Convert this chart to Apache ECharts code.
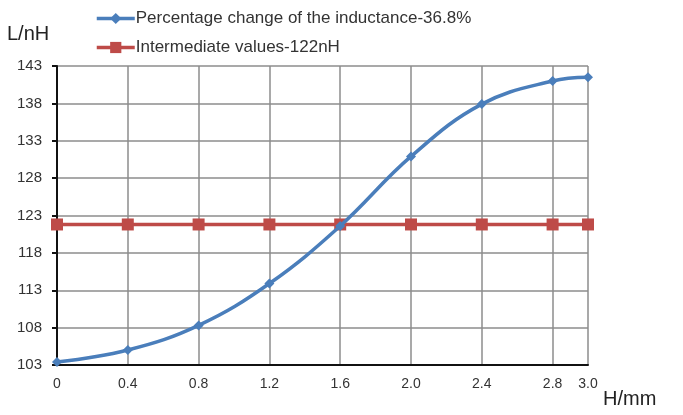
<!DOCTYPE html>
<html><head><meta charset="utf-8">
<script src="https://cdn.jsdelivr.net/npm/echarts@6/dist/echarts.min.js"></script>
<style>html,body{margin:0;padding:0;background:#fff}#c{width:683px;height:415px}</style>
</head><body><div id="c"></div>
<script>
const xValues = [0, 0.4, 0.8, 1.2, 1.6, 2.0, 2.4, 2.8, 3.0];
const inductance = [103.4, 105.0, 108.3, 113.9, 121.6, 130.9, 137.9, 141.0, 141.5];
const intermediate = [121.8, 121.8, 121.8, 121.8, 121.8, 121.8, 121.8, 121.8, 121.8];
const seriesNames = ['Percentage change of the inductance-36.8%', 'Intermediate values-122nH'];
const yAxisName = 'L/nH';
const xAxisName = 'H/mm';

const chart = echarts.init(document.getElementById('c'));
const pair = (ys) => xValues.map((x, i) => [x, ys[i]]);
chart.setOption({
  animation: false,
  textStyle: { fontFamily: 'Liberation Sans, Arial, sans-serif' },
  legend: {
    orient: 'vertical', left: 90, top: 5, itemGap: 12, itemWidth: 38, itemHeight: 14,
    lineStyle: { width: 3.5 },
    textStyle: { fontSize: 17, color: '#333', padding: [0, 0, 0, -4] },
    data: seriesNames
  },
  grid: { left: 57, right: 95, top: 66, bottom: 50, containLabel: false },
  graphic: [
    { type: 'text', left: 7, top: 24, style: { text: yAxisName, font: '20px Liberation Sans, Arial', fill: '#222' } },
    { type: 'text', left: 603, top: 389, style: { text: xAxisName, font: '20px Liberation Sans, Arial', fill: '#222' } }
  ],
  xAxis: {
    type: 'value', min: 0, max: 3.0, interval: 0.4,
    axisLine: { show: true, onZero: false, lineStyle: { color: '#111', width: 2 } },
    axisTick: { show: false },
    splitLine: { show: true, lineStyle: { color: '#8c8c8c', width: 1.5 } },
    axisLabel: { fontSize: 14, color: '#333', margin: 12,
      showMaxLabel: true,
      formatter: v => (v === 0 ? '0' : v.toFixed(1)) }
  },
  yAxis: {
    type: 'value', min: 103, max: 143, interval: 5,
    axisLine: { show: true, lineStyle: { color: '#111', width: 2 } },
    axisTick: { show: true, length: 5, lineStyle: { color: '#111', width: 2 } },
    splitLine: { show: true, lineStyle: { color: '#8c8c8c', width: 1.5 } },
    axisLabel: { fontSize: 15, color: '#333', margin: 15 }
  },
  series: [
    {
      name: seriesNames[0], type: 'line', smooth: 0.4, data: pair(inductance),
      symbol: 'diamond', symbolSize: 10, z: 3,
      lineStyle: { color: '#4a7ebb', width: 3.5 },
      itemStyle: { color: '#4a7ebb' }
    },
    {
      name: seriesNames[1], type: 'line', data: pair(intermediate),
      symbol: 'rect', symbolSize: 12, z: 2,
      lineStyle: { color: '#be4b48', width: 3.5 },
      itemStyle: { color: '#be4b48' }
    }
  ]
});
</script></body></html>
